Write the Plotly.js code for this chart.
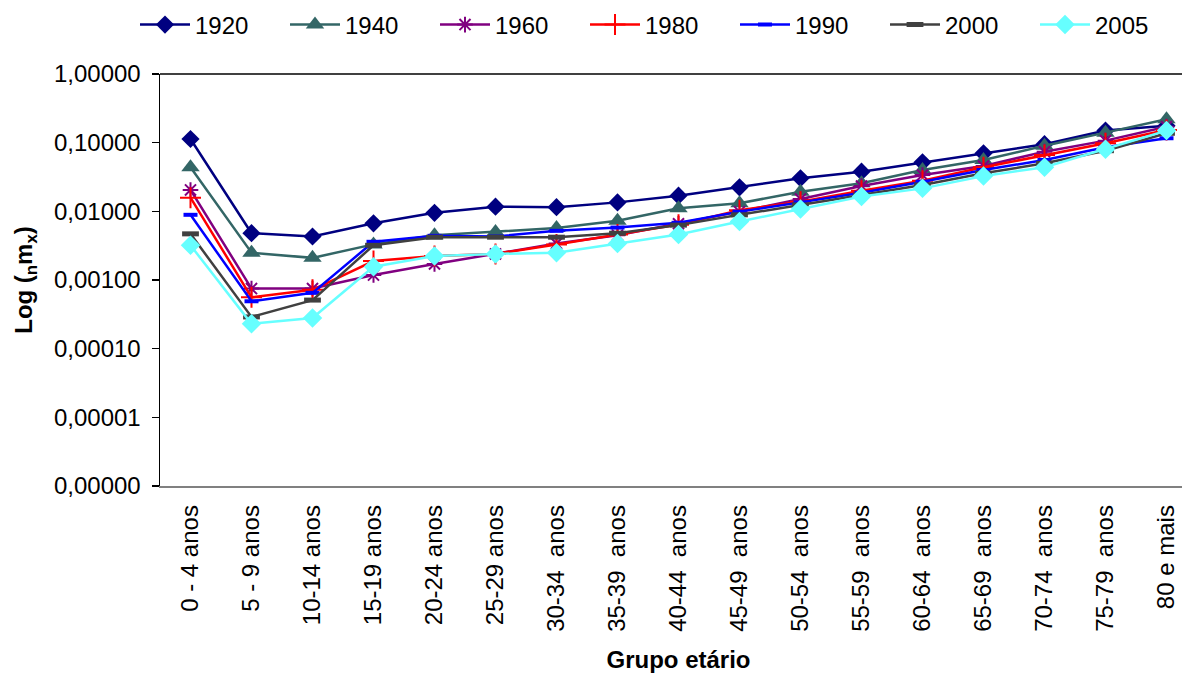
<!DOCTYPE html>
<html>
<head>
<meta charset="utf-8">
<script src="https://cdn.plot.ly/plotly-3.0.1.min.js"></script>
<style>
  html, body { margin: 0; padding: 0; overflow: hidden; background: #ffffff; }
  #chart { width: 1200px; height: 678px; }
</style>
</head>
<body>
<div id="chart"></div>
<script>
// Age groups on the x axis
const ageGroups = ['0 - 4 anos', '5 - 9 anos', '10-14 anos', '15-19 anos', '20-24 anos',
  '25-29 anos', '30-34  anos', '35-39  anos', '40-44  anos', '45-49  anos', '50-54  anos',
  '55-59  anos', '60-64  anos', '65-69  anos', '70-74  anos', '75-79  anos', '80 e mais'];

// Central death rates (nmx) by age group, one array per year
const years = ['1920', '1940', '1960', '1980', '1990', '2000', '2005'];
const m1920 = [0.113, 0.0048, 0.0043, 0.0067, 0.0095, 0.0117, 0.0115, 0.0135, 0.0169, 0.0224, 0.0303, 0.0378, 0.0518, 0.070, 0.095, 0.150, 0.177];
const m1940 = [0.044, 0.0025, 0.0021, 0.0033, 0.0045, 0.0050, 0.0057, 0.0073, 0.0111, 0.0131, 0.0193, 0.0256, 0.040, 0.056, 0.090, 0.140, 0.219];
const m1960 = [0.0205, 0.00075, 0.00075, 0.00118, 0.00171, 0.0024, 0.0034, 0.0045, 0.0066, 0.0099, 0.0151, 0.0234, 0.0338, 0.0457, 0.074, 0.107, 0.171];
const m1980 = [0.0158, 0.00056, 0.00072, 0.00189, 0.00224, 0.0024, 0.0033, 0.0046, 0.0064, 0.0104, 0.0138, 0.020, 0.028, 0.0438, 0.066, 0.098, 0.153];
const m1990 = [0.0089, 0.00049, 0.00065, 0.0036, 0.0044, 0.0043, 0.0052, 0.0058, 0.0068, 0.0099, 0.0135, 0.0187, 0.027, 0.040, 0.056, 0.0857, 0.116];
const m2000 = [0.0047, 0.00029, 0.00051, 0.0032, 0.0042, 0.0042, 0.0042, 0.0048, 0.0063, 0.0089, 0.0124, 0.0173, 0.0242, 0.0358, 0.050, 0.0764, 0.137];
const m2005 = [0.0032, 0.00023, 0.00028, 0.00156, 0.00224, 0.0024, 0.0025, 0.0034, 0.0046, 0.0071, 0.0108, 0.0164, 0.0216, 0.0327, 0.0438, 0.080, 0.150];

// Log-axis ticks with comma decimals
const yTickVals = [1, 0.1, 0.01, 0.001, 0.0001, 0.00001, 0.000001];
const yTickText = ['1,00000', '0,10000', '0,01000', '0,00100', '0,00010', '0,00001', '0,00000'];

const seriesValues = [m1920, m1940, m1960, m1980, m1990, m2000, m2005];
const seriesStyles = [
  { color: '#000080', symbol: 'diamond', size: 14, mlw: 0 },
  { color: '#336666', symbol: 'triangle-up', size: 16, mlw: 0 },
  { color: '#800080', symbol: 'asterisk-open', size: 13, mlw: 2 },
  { color: '#ff0000', symbol: 'cross-thin-open', size: 15, mlw: 2 },
  { color: '#0000ff', symbol: 'line-ew-open', size: 10, mlw: 4 },
  { color: '#404040', symbol: 'line-ew-open', size: 12, mlw: 5 },
  { color: '#66ffff', symbol: 'diamond', size: 15, mlw: 0 }
];

const FONT = 'Liberation Sans, Arial, sans-serif';

const traces = years.map((yr, i) => {
  const s = seriesStyles[i];
  const t = {
    type: 'scatter',
    mode: 'lines+markers',
    name: yr,
    x: ageGroups,
    y: seriesValues[i],
    line: { color: s.color, width: 2.5 },
    marker: { symbol: s.symbol, size: s.size, color: s.color,
              line: { color: s.color, width: s.mlw } },
    cliponaxis: false
  };
  // last legend entry only needs room for its own text
  if (i === years.length - 1) t.legendwidth = 60;
  return t;
});

const layout = {
  width: 1200,
  height: 678,
  margin: { l: 160, r: 3, t: 74, b: 192 },
  paper_bgcolor: '#ffffff',
  plot_bgcolor: '#ffffff',
  font: { family: FONT, size: 24, color: '#000000' },
  showlegend: true,
  legend: {
    orientation: 'h',
    xref: 'container', yref: 'container',
    x: 0.1125, y: 1 - 25 / 678,
    xanchor: 'left', yanchor: 'middle',
    itemwidth: 50,
    entrywidth: 85,
    font: { family: FONT, size: 24, color: '#000000' },
    bgcolor: 'rgba(0,0,0,0)',
    traceorder: 'normal'
  },
  xaxis: {
    type: 'category',
    range: [-0.5, 16.5],
    showgrid: false,
    zeroline: false,
    showline: true,
    linecolor: '#808080',
    linewidth: 1.5,
    ticks: '',
    tickangle: -90,
    ticklabelstandoff: 8,
    tickfont: { family: FONT, size: 24, color: '#000000' },
    title: { text: '<b>Grupo etário</b>', font: { family: FONT, size: 24, color: '#000000' }, standoff: 20 },
    automargin: false
  },
  yaxis: {
    type: 'log',
    range: [-6, 0],
    tickvals: yTickVals,
    ticktext: yTickText,
    showgrid: false,
    zeroline: false,
    showline: true,
    linecolor: '#000000',
    linewidth: 1.5,
    ticks: 'outside',
    ticklen: 7,
    tickwidth: 1.5,
    tickcolor: '#000000',
    ticklabelstandoff: 6,
    tickfont: { family: FONT, size: 24, color: '#000000' },
    title: { text: '<b>Log (<sub>n</sub>m<sub>x</sub>)</b>', font: { family: FONT, size: 24, color: '#000000' }, standoff: 14 },
    automargin: false
  },
  shapes: [{
    type: 'line', xref: 'paper', yref: 'paper',
    x0: 0, x1: 1, y0: 1, y1: 1,
    line: { color: '#000000', width: 1.5 }
  }]
};

Plotly.newPlot('chart', traces, layout, { staticPlot: true, displayModeBar: false });
</script>
</body>
</html>
